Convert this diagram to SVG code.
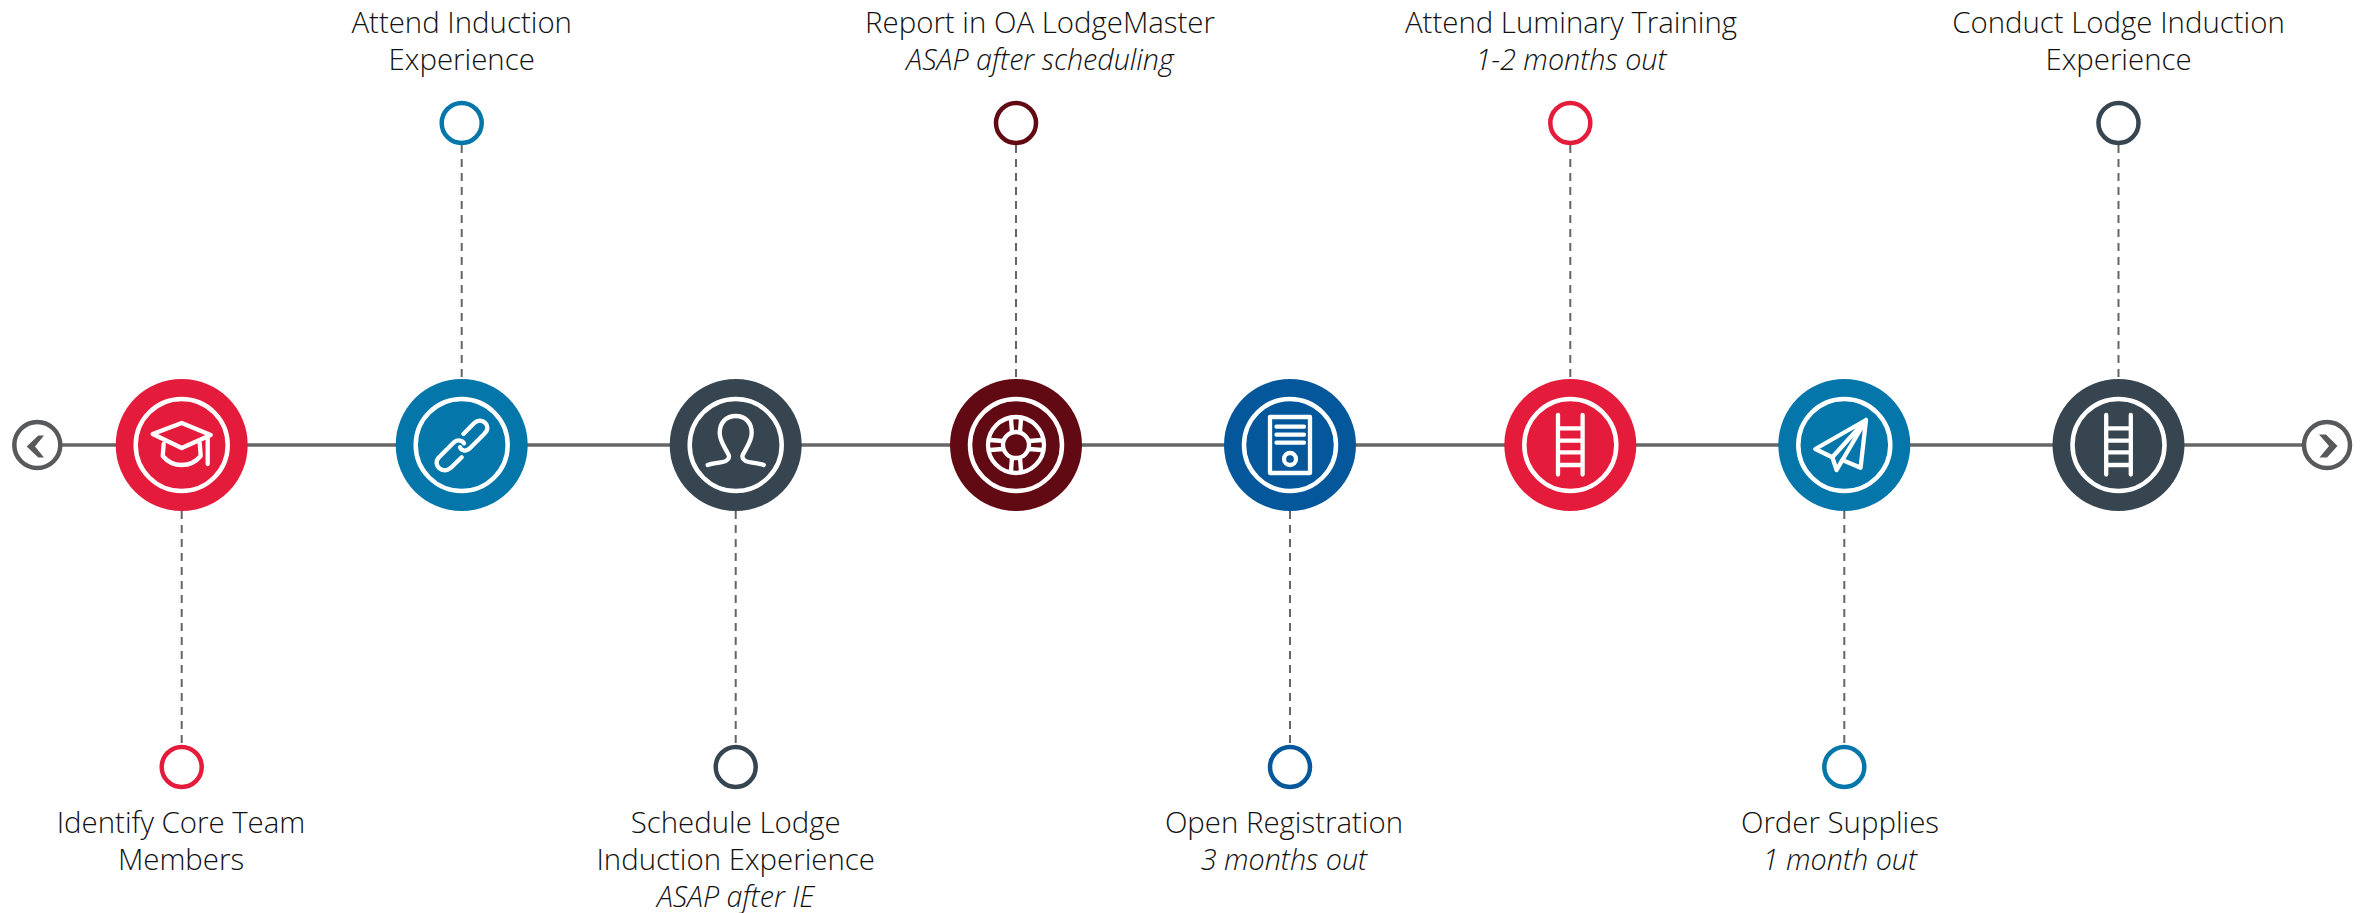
<svg xmlns="http://www.w3.org/2000/svg" xmlns:xlink="http://www.w3.org/1999/xlink" width="2363" height="913" viewBox="0 0 2363 913">
<style>
text{font-family:"Open Sans","Liberation Sans",sans-serif;font-weight:300;font-size:29.4px;fill:#111;text-anchor:middle}
.i{font-style:italic;font-size:28.7px}
.axis{stroke:#666;stroke-width:3.5;fill:none}
.dash{stroke:#666;stroke-width:2;stroke-dasharray:8 6;fill:none}
.ring{fill:none;stroke:#fff;stroke-width:4.500}
.ic{fill:none;stroke:#fff;stroke-width:4.300;stroke-linecap:round;stroke-linejoin:round}
.nav{fill:#fff;stroke:#58595b;stroke-width:4.500}
.chev{fill:#58595b}
.red{fill:#e41b3a}.blue{fill:#0476a9}.slate{fill:#36454f}.maroon{fill:#610a14}.navy{fill:#03579a}
.sr{stroke:#e41b3a}.sb{stroke:#0476a9}.ss{stroke:#36454f}.sm{stroke:#610a14}.sn{stroke:#03579a}
.dot{fill:#fff;stroke-width:4.500}
</style>
<defs>
<g id="ladder" class="ic"><path d="M-12.300-30V29.500M12.300-30V29.500M-12.300-16.700H12.300M-12.300-4.300H12.300M-12.300 7.300H12.300M-12.300 20H12.300"/></g>
</defs>
<g id="connectors">
<path class="axis" d="M60 445H2304"/>
<path class="dash" d="M181.700 511V745"/>
<path class="dash" d="M461.700 145V379"/>
<path class="dash" d="M735.700 511V745"/>
<path class="dash" d="M1016 145V379"/>
<path class="dash" d="M1290 511V745"/>
<path class="dash" d="M1570.300 145V379"/>
<path class="dash" d="M1844.300 511V745"/>
<path class="dash" d="M2118.500 145V379"/>
</g>
<g id="nav-prev"><circle class="nav" cx="37.300" cy="445" r="23"/><path class="chev" d="M38.300 435.500H44L35 446.500L44 457.500H38.300L26.700 446.500Z"/></g>
<g id="nav-next"><circle class="nav" cx="2327" cy="445" r="23"/><path class="chev" d="M2319 434.500H2326L2337.500 446L2327 457.500H2319.500L2329 446Z"/></g>

<g id="node-1"><circle class="red" cx="181.700" cy="445" r="66"/><circle class="ring" cx="181.700" cy="445" r="46"/>
<g class="ic" transform="translate(181.700 445)"><path d="M0-22L-29-11L0 3L29-10ZM-18-1L-19 11C-9 23 9 23 19 11L18-2M26-8V19"/></g></g>
<g id="label-1"><circle class="dot sr" cx="181.700" cy="767" r="20"/><text x="181" y="833">Identify Core Team</text><text x="181" y="870">Members</text></g>

<g id="node-2"><circle class="blue" cx="461.700" cy="445" r="66"/><circle class="ring" cx="461.700" cy="445" r="46"/>
<g class="ic" transform="translate(461.700 445)"><path d="M1.700-11L12.300-21.700C20-29 31-19 22.700-11.300L7.700 3.700C4 7-.5 5.500-1.700 2.300M0 12.300L-10.700 22.700C-19 30-30 20-22.700 12.300L-7.700-2.700C-4-6 1-4.500 2.300-1.700"/></g></g>
<g id="label-2"><circle class="dot sb" cx="461.700" cy="123" r="20"/><text x="461.700" y="32.500">Attend Induction</text><text x="461.700" y="69.500">Experience</text></g>

<g id="node-3"><circle class="slate" cx="735.700" cy="445" r="66"/><circle class="ring" cx="735.700" cy="445" r="46"/>
<g class="ic" transform="translate(735.700 445)"><path d="M-28 20C-24 18-18 18-13 17C-8 16-6 13-7 10C-11 2-16-4-16-12C-16-23-9-29 0-29C9-29 16-23 16-12C16-4 11 2 7 10C6 13 8 16 13 17C18 18 24 18 28 20"/></g></g>
<g id="label-3"><circle class="dot ss" cx="735.700" cy="767" r="20"/><text x="735.700" y="833">Schedule Lodge</text><text x="735.700" y="870">Induction Experience</text><text class="i" x="735.700" y="907">ASAP after IE</text></g>

<g id="node-4"><circle class="maroon" cx="1016" cy="445" r="66"/><circle class="ring" cx="1016" cy="445" r="46"/>
<g class="ic" transform="translate(1016 445)"><circle r="28"/><circle r="13"/><path d="M-5-26L-4-13M5-26L4-13M-5 26L-4 13M5 26L4 13M-26-5L-13-4M-26 5L-13 4M26-5L13-4M26 5L13 4"/></g></g>
<g id="label-4"><circle class="dot sm" cx="1016" cy="123" r="20"/><text x="1040" y="32.500">Report in OA LodgeMaster</text><text class="i" x="1040" y="69.500">ASAP after scheduling</text></g>

<g id="node-5"><circle class="navy" cx="1290" cy="445" r="66"/><circle class="ring" cx="1290" cy="445" r="46"/>
<g class="ic" transform="translate(1290 445)"><rect x="-20" y="-28" width="40" height="56"/><path d="M-13.500-18.300H14M-13.500-10.300H14M-13.500-2.300H14"/><circle cy="14" r="6"/></g></g>
<g id="label-5"><circle class="dot sn" cx="1290" cy="767" r="20"/><text x="1284" y="833">Open Registration</text><text class="i" x="1284" y="870">3 months out</text></g>

<g id="node-6"><circle class="red" cx="1570.300" cy="445" r="66"/><circle class="ring" cx="1570.300" cy="445" r="46"/>
<use xlink:href="#ladder" href="#ladder" x="1570.300" y="445"/></g>
<g id="label-6"><circle class="dot sr" cx="1570.300" cy="123" r="20"/><text x="1571" y="32.500">Attend Luminary Training</text><text class="i" x="1571" y="69.500">1-2 months out</text></g>

<g id="node-7"><circle class="blue" cx="1844.300" cy="445" r="66"/><circle class="ring" cx="1844.300" cy="445" r="46"/>
<g class="ic" transform="translate(1844.300 445)"><path d="M21.700-25L-29 4L-12 12.300L-7.700 25L-2 15L16.300 22.700ZM21.700-25L-12 12.300M21.700-25L-7.700 25"/></g></g>
<g id="label-7"><circle class="dot sb" cx="1844.300" cy="767" r="20"/><text x="1840" y="833">Order Supplies</text><text class="i" x="1840" y="870">1 month out</text></g>

<g id="node-8"><circle class="slate" cx="2118.500" cy="445" r="66"/><circle class="ring" cx="2118.500" cy="445" r="46"/>
<use xlink:href="#ladder" href="#ladder" x="2118.500" y="445"/></g>
<g id="label-8"><circle class="dot ss" cx="2118.500" cy="123" r="20"/><text x="2118.500" y="32.500">Conduct Lodge Induction</text><text x="2118.500" y="69.500">Experience</text></g>
</svg>
